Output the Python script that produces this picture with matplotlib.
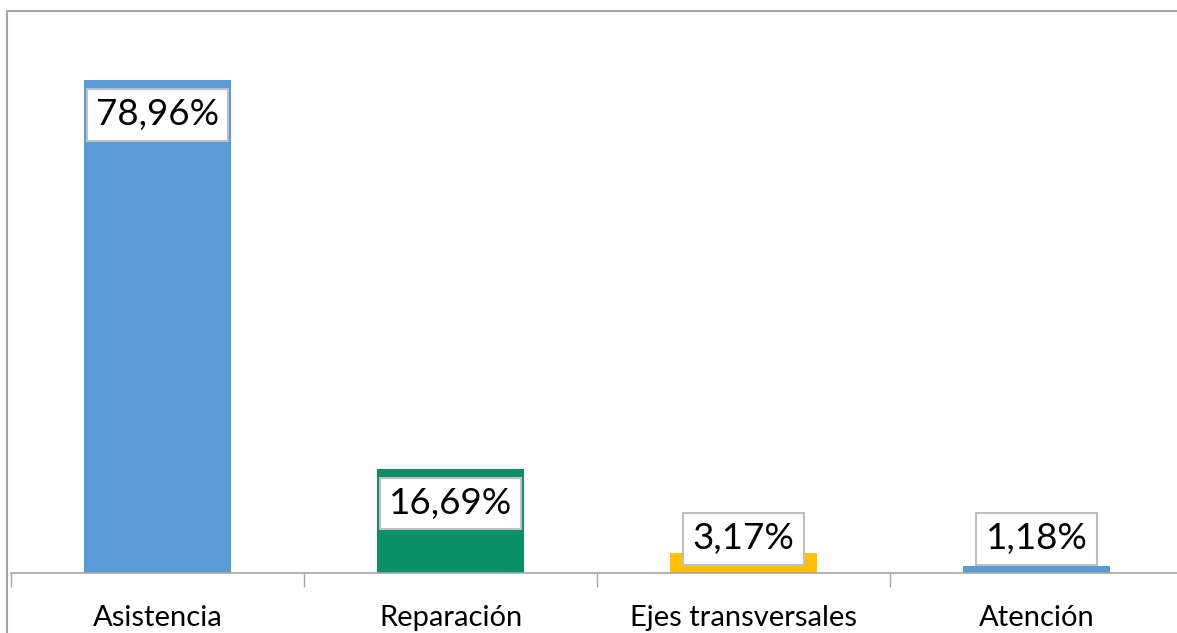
import matplotlib
matplotlib.use("Agg")
import matplotlib.pyplot as plt
from matplotlib.patches import Rectangle

categories = ["Asistencia", "Reparación", "Ejes transversales", "Atención"]
values = [78.96, 16.69, 3.17, 1.18]
labels = ["78,96%", "16,69%", "3,17%", "1,18%"]
colors = ["#5B9BD5", "#0A8F67", "#FFC000", "#5B9BD5"]

plt.rcParams["font.family"] = ["Lato", "DejaVu Sans"]

W, H = 1177, 633
fig = plt.figure(figsize=(W / 100, H / 100), dpi=100)

# plot area runs past the right edge, like the cropped original
ax = fig.add_axes([11 / W, 60 / H, 1172 / W, 562 / H])
ax.set_xlim(0, len(categories))
ax.set_ylim(0, 90)

xs = [i + 0.5 for i in range(len(categories))]
ax.bar(xs, values, width=0.5, color=colors, zorder=2)

for x, v, lab in zip(xs, values, labels):
    y = max(v - 5.6, 5.45)
    ax.text(x, y, lab, ha="center", va="center", fontsize=26.5, color="black",
            zorder=3,
            bbox=dict(boxstyle="square,pad=0.25", fc="white", ec="#BFBFBF", lw=1.5))

for s in ["top", "right", "left"]:
    ax.spines[s].set_visible(False)
ax.spines["bottom"].set_color("#A6A6A6")
ax.spines["bottom"].set_linewidth(1.2)
ax.set_yticks([])

ax.set_xticks(range(len(categories) + 1))
ax.set_xticklabels([])
ax.tick_params(axis="x", which="major", length=10, width=1, color="#A6A6A6")
ax.set_xticks(xs, minor=True)
ax.set_xticklabels(categories, minor=True, fontsize=21)
ax.tick_params(axis="x", which="minor", length=0, pad=23)

# chart border, also cropped on the right and bottom
fig.patches.append(Rectangle((7 / W, -0.1), 2, 1.1 - 11 / H, transform=fig.transFigure,
                             fill=False, ec="#A6A6A6", lw=1.5))

fig.savefig("out.png", dpi=100)
